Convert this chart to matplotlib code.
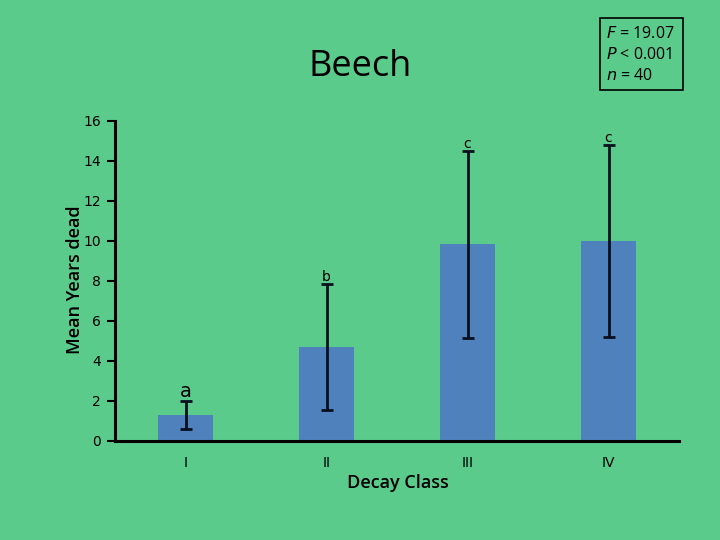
import matplotlib
matplotlib.use("Agg")
import matplotlib.pyplot as plt
from matplotlib.patches import Rectangle

categories = ["I", "II", "III", "IV"]
means = [1.29, 4.70, 9.84, 10.0]
errors = [0.69, 3.13, 4.68, 4.82]
letters = ["a", "b", "c", "c"]
letter_sizes = [14, 10, 10, 10]
yticks = [0, 2, 4, 6, 8, 10, 12, 14, 16]

bg = "#5ACB8B"
bar_color = "#4F81BD"
err_color = "#0A0F1E"

fig = plt.figure(figsize=(7.2, 5.4), dpi=100, facecolor=bg)
ax = fig.add_axes([115/720, 1-441/540, (679-115)/720, (441-121)/540])
ax.set_facecolor(bg)

x = list(range(len(categories)))
ax.bar(x, means, width=0.39, color=bar_color, zorder=2)
ax.errorbar(x, means, yerr=errors, fmt="none", ecolor=err_color,
            elinewidth=2, capsize=4, capthick=2, zorder=3)

for xi, m, e, lab, fs in zip(x, means, errors, letters, letter_sizes):
    ax.annotate(lab, (xi, m + e), xytext=(0, 0), textcoords="offset points",
                ha="center", va="bottom", fontsize=fs, color="black",
                family="DejaVu Sans")

ax.set_xlim(-0.5, 3.5)
ax.set_ylim(0, 16)
ax.set_yticks(yticks)
ax.set_yticklabels([str(t) for t in yticks], fontsize=10, family="DejaVu Sans")
ax.set_xticks(x)
ax.set_xticklabels(categories, fontsize=10, family="DejaVu Sans")
ax.tick_params(axis="x", length=0, pad=11)
ax.tick_params(axis="y", direction="out", length=6, width=1.5, pad=4)

for s in ["top", "right"]:
    ax.spines[s].set_visible(False)
for s in ["left", "bottom"]:
    ax.spines[s].set_linewidth(2.2)
    ax.spines[s].set_color("black")
    ax.spines[s].set_zorder(4)

fig.text(75/720, 1-280/540, "Mean Years dead", rotation=90, ha="center",
         va="center", fontsize=13, fontweight="semibold", family="Open Sans")
fig.text(398/720, 1-483/540, "Decay Class", ha="center", va="center",
         fontsize=13, fontweight="semibold", family="Open Sans")
fig.text(360/720, 1-67/540, "Beech", ha="center", va="center",
         fontsize=26, family="Open Sans")

# stats box
fig.patches.append(Rectangle((600/720, 1-90/540), 83/720, 72/540,
                             transform=fig.transFigure, fill=False,
                             edgecolor="black", linewidth=1.2))
stats = [("F", " = 19.07", 34), ("P", " < 0.001", 55), ("n", " = 40", 76)]
for sym, rest, yy in stats:
    fig.text(606/720, 1-yy/540, r"$\mathit{" + sym + "}$" + rest,
             ha="left", va="center", fontsize=11.5, family="Open Sans")

fig.savefig("out.png", dpi=100, facecolor=bg)
